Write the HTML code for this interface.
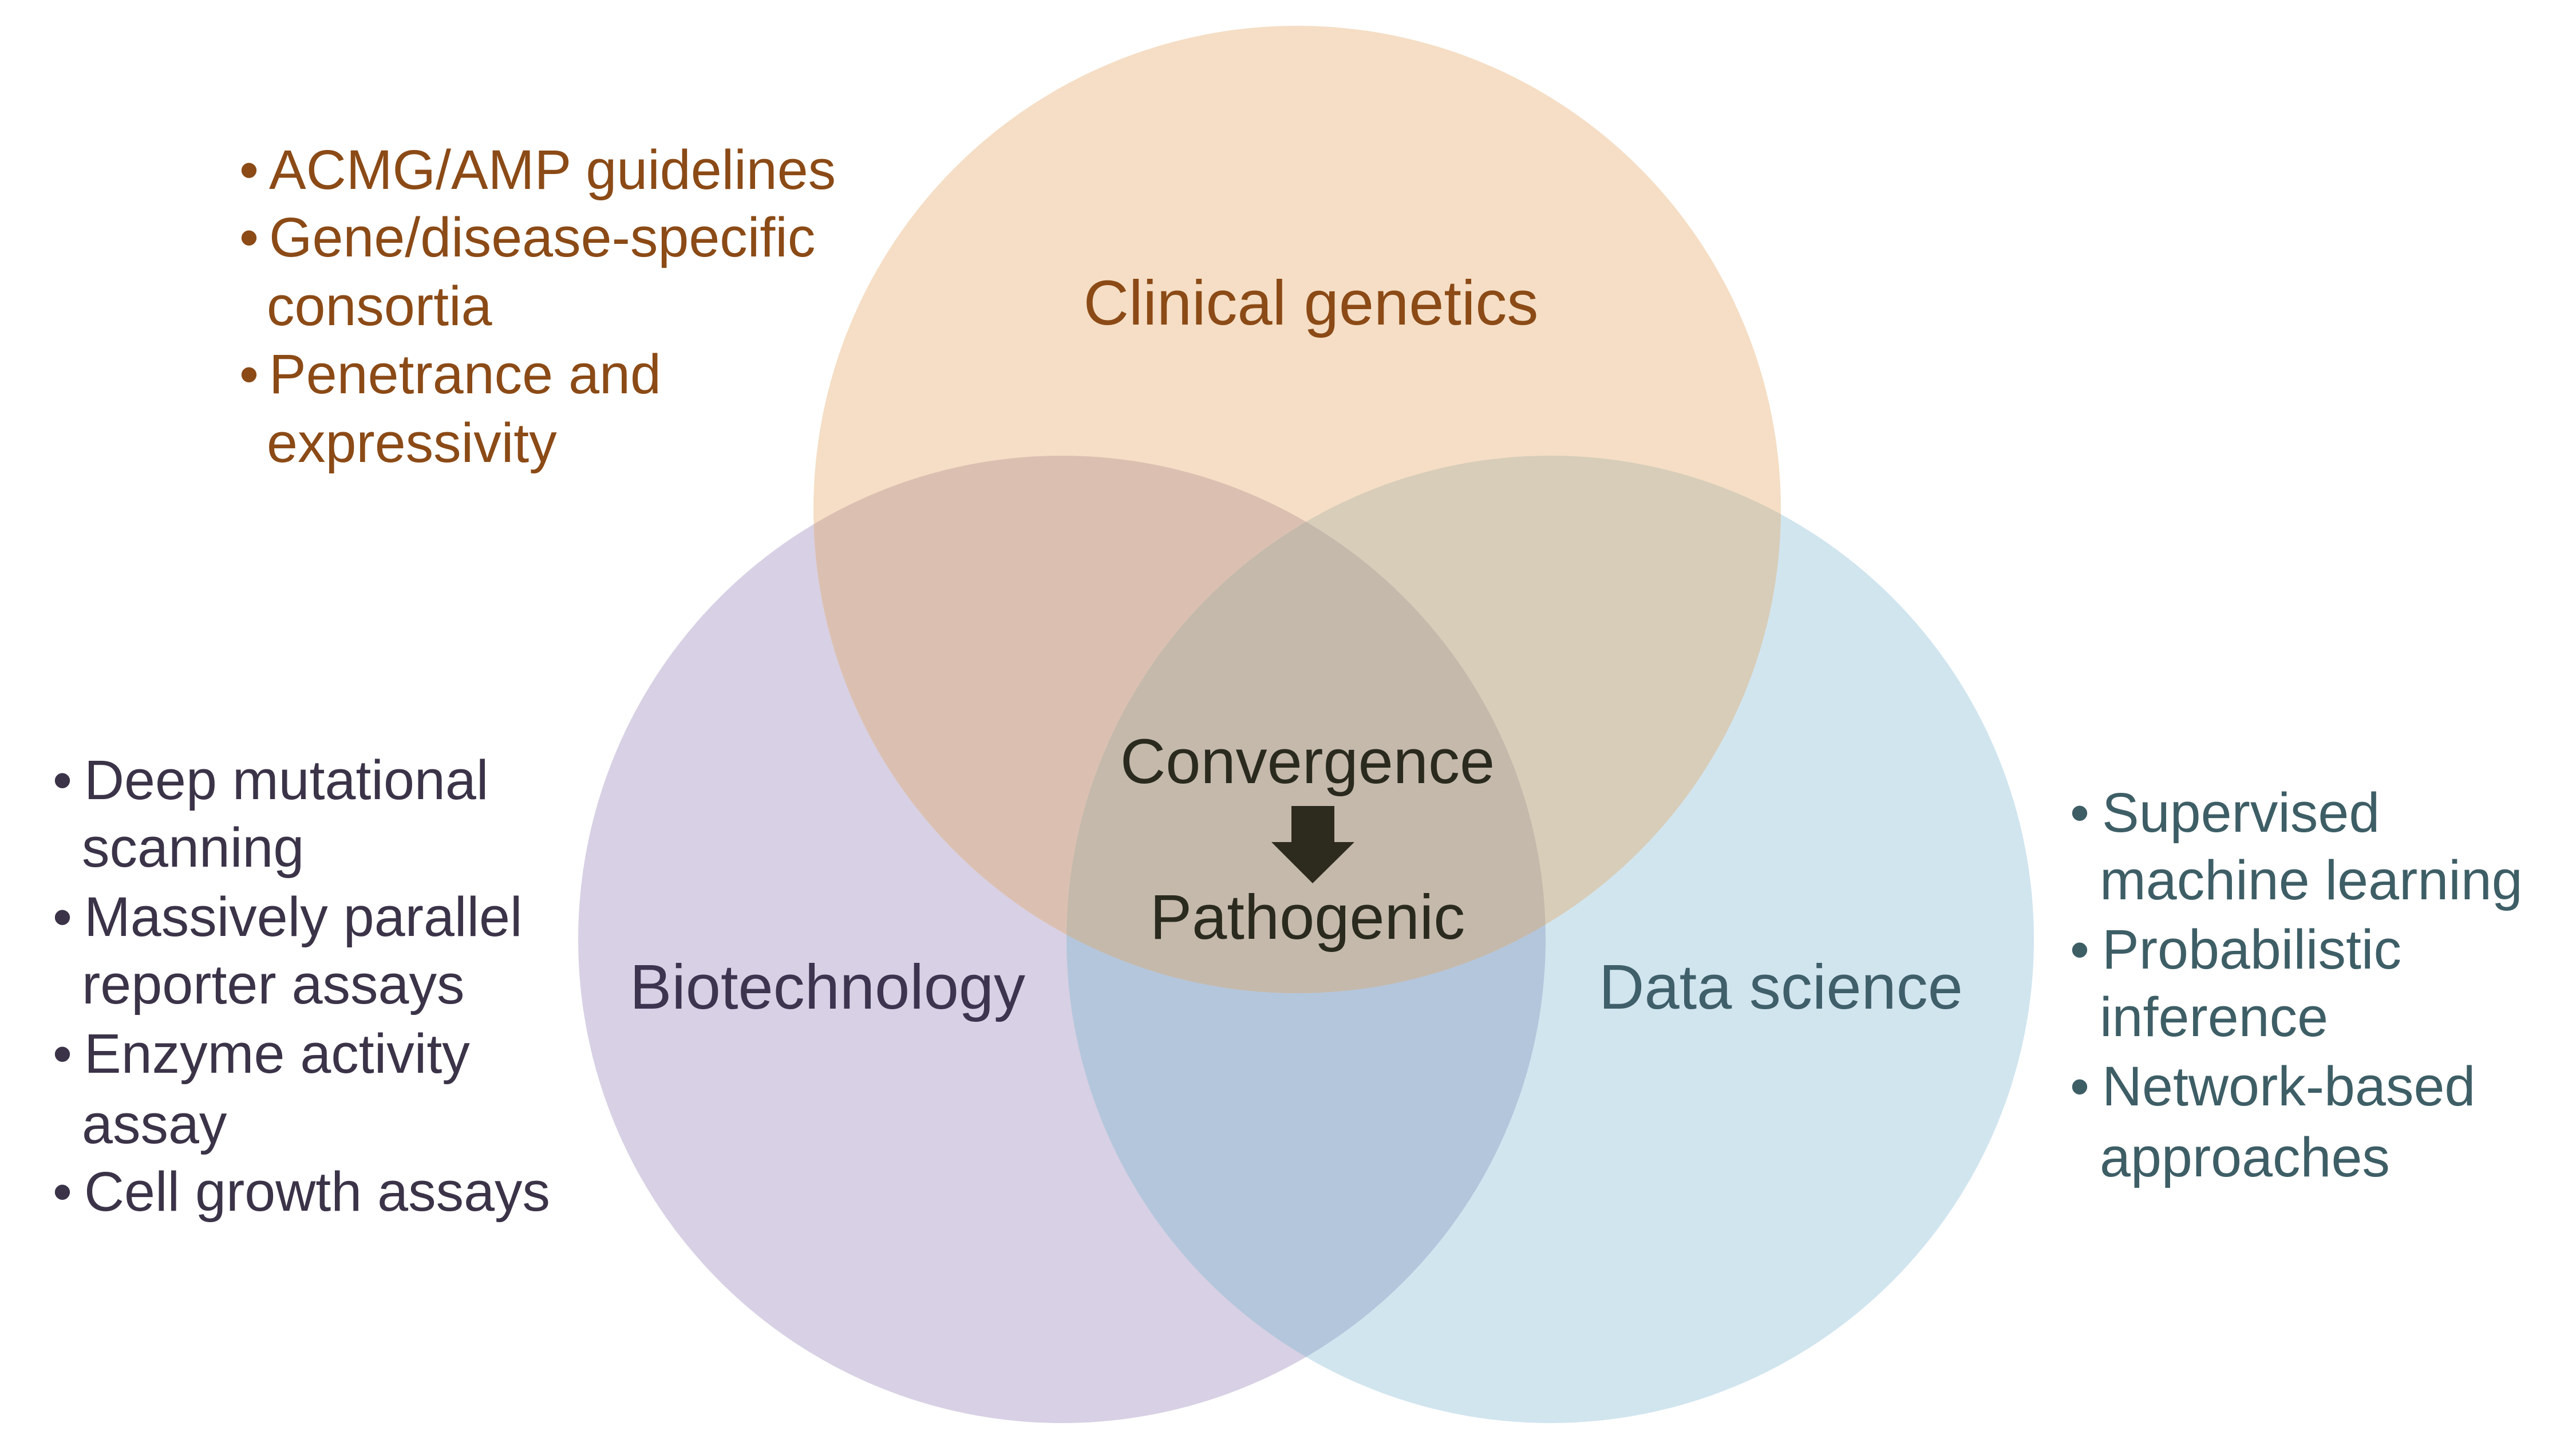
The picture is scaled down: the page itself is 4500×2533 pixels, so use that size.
<!DOCTYPE html>
<html><head><meta charset="utf-8"><style>
html,body{margin:0;padding:0;background:#fff}
svg{display:block}
text{font-family:"Liberation Sans",Arial,sans-serif}
</style></head><body>
<svg width="4500" height="2533" viewBox="0 0 4500 2533" xmlns="http://www.w3.org/2000/svg">
<defs>
<clipPath id="cT"><circle cx="2266" cy="890" r="845"/></clipPath>
<clipPath id="cL"><circle cx="1855" cy="1641" r="845"/></clipPath>
<clipPath id="cR"><circle cx="2708" cy="1641" r="845"/></clipPath>
</defs>
<rect width="4500" height="2533" fill="#fff"/>
<circle cx="1855" cy="1641" r="845" fill="#d8d0e4"/>
<circle cx="2708" cy="1641" r="845" fill="#d1e5ef"/>
<circle cx="2266" cy="890" r="845" fill="#f5dec5"/>
<g clip-path="url(#cL)"><circle cx="2708" cy="1641" r="845" fill="#b4c6dc"/></g>
<g clip-path="url(#cL)"><circle cx="2266" cy="890" r="845" fill="#dbc0b2"/></g>
<g clip-path="url(#cR)"><circle cx="2266" cy="890" r="845" fill="#d7cdb9"/></g>
<g clip-path="url(#cL)"><g clip-path="url(#cR)"><circle cx="2266" cy="890" r="845" fill="#c4b9ab"/></g></g>

<text x="2290" y="567" font-size="110" fill="#8b4a16" text-anchor="middle">Clinical genetics</text>
<text x="2284" y="1368" font-size="110" fill="#2a2a1e" text-anchor="middle">Convergence</text>
<text x="2284" y="1640" font-size="110" fill="#2a2a1e" text-anchor="middle">Pathogenic</text>
<path d="M2256 1408 H2331 V1471 H2366 L2293 1543 L2221 1471 H2256 Z" fill="#2d2a1e"/>
<text x="1100" y="1762" font-size="110" fill="#3d3450">Biotechnology</text>
<text x="2793" y="1762" font-size="110" fill="#3f5f6a">Data science</text>

<g font-size="97" fill="#8b4a16">
<text x="418" y="330">•</text><text x="470" y="330">ACMG/AMP guidelines</text>
<text x="418" y="448">•</text><text x="470" y="448">Gene/disease-specific</text>
<text x="466" y="568">consortia</text>
<text x="418" y="687">•</text><text x="470" y="687">Penetrance and</text>
<text x="466" y="807">expressivity</text>
</g>
<g font-size="97" fill="#3b3348">
<text x="92" y="1396">•</text><text x="147" y="1396">Deep mutational</text>
<text x="143" y="1514">scanning</text>
<text x="92" y="1635">•</text><text x="147" y="1635">Massively parallel</text>
<text x="143" y="1753">reporter assays</text>
<text x="92" y="1874">•</text><text x="147" y="1874">Enzyme activity</text>
<text x="143" y="1997">assay</text>
<text x="92" y="2115">•</text><text x="147" y="2115">Cell growth assays</text>
</g>
<g font-size="97" fill="#3e5e66">
<text x="3616" y="1453">•</text><text x="3672" y="1453">Supervised</text>
<text x="3668" y="1571">machine learning</text>
<text x="3616" y="1692">•</text><text x="3672" y="1692">Probabilistic</text>
<text x="3668" y="1810">inference</text>
<text x="3616" y="1931">•</text><text x="3672" y="1931">Network-based</text>
<text x="3668" y="2055">approaches</text>
</g>
</svg>
</body></html>
